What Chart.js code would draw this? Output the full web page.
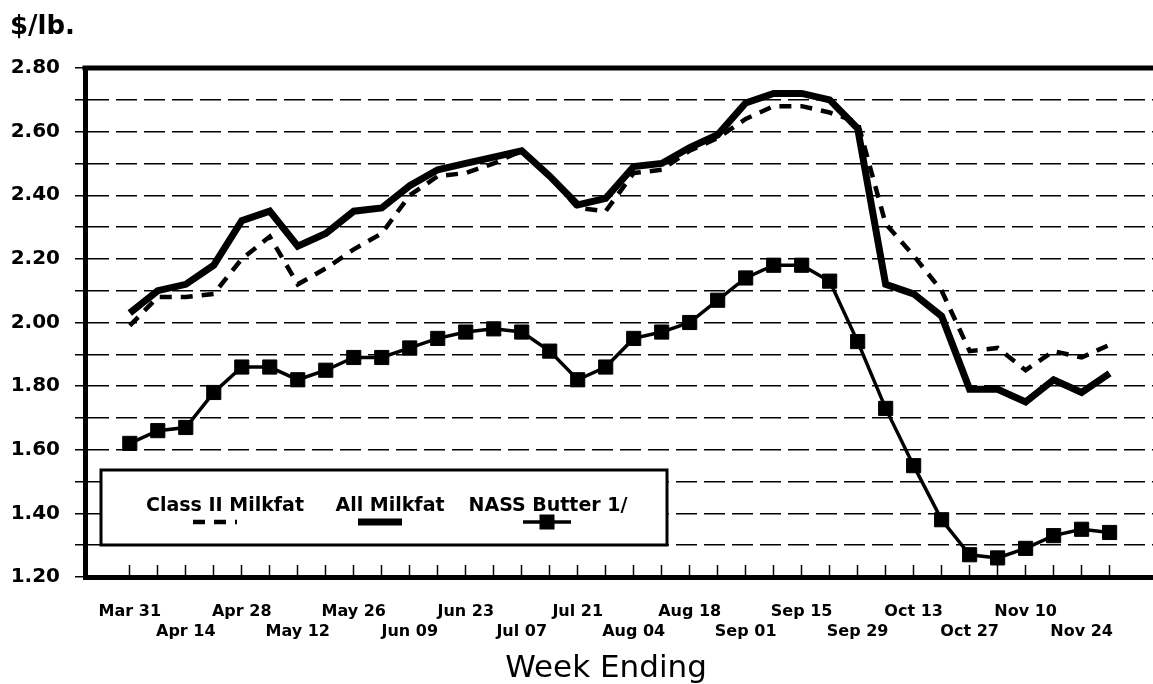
<!DOCTYPE html>
<html>
<head>
<meta charset="utf-8">
<title>Milkfat and Butter Prices</title>
<script src="https://cdn.jsdelivr.net/npm/chart.js@4.4.1/dist/chart.umd.min.js"></script>
<style>
  html, body { margin: 0; padding: 0; background: #fff; }
</style>
</head>
<body>
<canvas id="canvas" width="1153" height="684"></canvas>
<script>
const weeks = [
  'Mar 31', 'Apr 07', 'Apr 14', 'Apr 21', 'Apr 28', 'May 05', 'May 12', 'May 19', 'May 26',
  'Jun 02', 'Jun 09', 'Jun 16', 'Jun 23', 'Jun 30', 'Jul 07', 'Jul 14', 'Jul 21', 'Jul 28',
  'Aug 04', 'Aug 11', 'Aug 18', 'Aug 25', 'Sep 01', 'Sep 08', 'Sep 15', 'Sep 22', 'Sep 29',
  'Oct 06', 'Oct 13', 'Oct 20', 'Oct 27', 'Nov 03', 'Nov 10', 'Nov 17', 'Nov 24', 'Dec 01'
];

const classIIMilkfat = [
  1.99, 2.08, 2.08, 2.09, 2.20, 2.27, 2.12, 2.17, 2.23, 2.28, 2.40, 2.46,
  2.47, 2.50, 2.54, 2.46, 2.36, 2.35, 2.47, 2.48, 2.54, 2.58, 2.64, 2.68,
  2.68, 2.66, 2.63, 2.31, 2.21, 2.10, 1.91, 1.92, 1.85, 1.91, 1.89, 1.93
];

const allMilkfat = [
  2.03, 2.10, 2.12, 2.18, 2.32, 2.35, 2.24, 2.28, 2.35, 2.36, 2.43, 2.48,
  2.50, 2.52, 2.54, 2.46, 2.37, 2.39, 2.49, 2.50, 2.55, 2.59, 2.69, 2.72,
  2.72, 2.70, 2.61, 2.12, 2.09, 2.02, 1.79, 1.79, 1.75, 1.82, 1.78, 1.84
];

const nassButter = [
  1.62, 1.66, 1.67, 1.78, 1.86, 1.86, 1.82, 1.85, 1.89, 1.89, 1.92, 1.95,
  1.97, 1.98, 1.97, 1.91, 1.82, 1.86, 1.95, 1.97, 2.00, 2.07, 2.14, 2.18,
  2.18, 2.13, 1.94, 1.73, 1.55, 1.38, 1.27, 1.26, 1.29, 1.33, 1.35, 1.34
];

const yMin = 1.2;
const yMax = 2.8;
const yStep = 0.1;

const FONT = "'DejaVu Sans', sans-serif";

function toPoints(values) {
  return values.map((y, i) => ({x: i, y}));
}

// top border of the plot box, the "$/lb." caption and the x axis title
const frame = {
  id: 'frame',
  afterDraw(chart) {
    const {ctx, chartArea} = chart;
    ctx.save();
    ctx.strokeStyle = '#000';
    ctx.lineWidth = 5;
    ctx.beginPath();
    ctx.moveTo(chartArea.left - 2.5, chartArea.top);
    ctx.lineTo(chart.width, chartArea.top);
    ctx.stroke();

    ctx.fillStyle = '#000';
    ctx.textBaseline = 'alphabetic';
    ctx.font = `bold 26px ${FONT}`;
    ctx.fillText('$/lb.', 10, 34);

    ctx.font = `31px ${FONT}`;
    ctx.textAlign = 'center';
    ctx.fillText('Week Ending', 606, 677);
    ctx.restore();
  }
};

// boxed legend, text above each line sample
const boxLegend = {
  id: 'boxLegend',
  afterDatasetsDraw(chart) {
    const ctx = chart.ctx;
    const entries = [
      {tx: 225, sx: 215, half: 22},
      {tx: 390, sx: 380, half: 22},
      {tx: 548, sx: 547, half: 24}
    ];
    ctx.save();
    ctx.fillStyle = '#fff';
    ctx.fillRect(101, 470, 566, 75);
    ctx.strokeStyle = '#000';
    ctx.lineWidth = 3;
    ctx.strokeRect(101, 470, 566, 75);

    ctx.font = `bold 19px ${FONT}`;
    ctx.textAlign = 'center';
    ctx.textBaseline = 'alphabetic';
    chart.data.datasets.forEach((ds, i) => {
      const e = entries[i];
      ctx.fillStyle = '#000';
      ctx.fillText(ds.label, e.tx, 511);
      ctx.beginPath();
      ctx.setLineDash(ds.borderDash || []);
      ctx.lineWidth = ds.borderWidth;
      ctx.moveTo(e.sx - e.half, 522);
      ctx.lineTo(e.sx + e.half, 522);
      ctx.stroke();
      ctx.setLineDash([]);
      if (ds.pointRadius > 0) {
        ctx.fillRect(e.sx - 7.5, 522 - 7.5, 15, 15);
      }
    });
    ctx.restore();
  }
};

const config = {
  type: 'line',
  data: {
    datasets: [
      {
        label: 'Class II Milkfat',
        data: toPoints(classIIMilkfat),
        borderColor: '#000',
        borderWidth: 4.5,
        borderDash: [12, 9],
        pointRadius: 0,
        tension: 0,
      },
      {
        label: 'All Milkfat',
        data: toPoints(allMilkfat),
        borderColor: '#000',
        borderWidth: 7,
        pointRadius: 0,
        tension: 0,
      },
      {
        label: 'NASS Butter 1/',
        data: toPoints(nassButter),
        borderColor: '#000',
        borderWidth: 3.5,
        pointRadius: 10,
        pointStyle: 'rect',
        pointBackgroundColor: '#000',
        pointBorderColor: '#000',
        pointBorderWidth: 1,
        tension: 0,
      },
    ],
  },
  options: {
    responsive: false,
    animation: false,
    layout: {autoPadding: false, padding: {top: 68, left: 0, right: 0, bottom: 0}},
    plugins: {
      legend: {display: false},
      tooltip: {enabled: false},
    },
    scales: {
      x: {
        type: 'linear',
        bounds: 'data',
        min: -1.6,
        max: 36.55,
        afterBuildTicks: scale => {
          scale.ticks = weeks.map((w, i) => ({value: i}));
        },
        afterFit: scale => {
          scale.height = 107;
        },
        ticks: {
          autoSkip: false,
          maxRotation: 0,
          minRotation: 0,
          padding: 36,
          color: '#000',
          font: {family: FONT, size: 16, weight: 'bold', lineHeight: 1.3},
          callback: value => {
            if (value % 2 !== 0) return '';
            const label = weeks[value];
            return value % 4 === 0 ? [label, ''] : ['', label];
          },
        },
        grid: {
          drawOnChartArea: false,
          drawTicks: true,
          tickLength: -12,
          tickColor: '#000',
          tickWidth: 1.5,
          color: '#000',
        },
        border: {display: true, color: '#000', width: 5},
      },
      y: {
        min: yMin,
        max: yMax,
        afterFit: scale => {
          scale.width = 85;
        },
        ticks: {
          stepSize: yStep,
          autoSkip: false,
          padding: 15,
          color: '#000',
          font: {family: FONT, size: 20, weight: 'bold'},
          callback: value => (Math.round(value * 10) % 2 === 0 ? value.toFixed(2) : ''),
        },
        grid: {
          color: '#000',
          lineWidth: 1.5,
          tickLength: 10,
          tickColor: '#000',
          tickWidth: 1.5,
        },
        border: {display: true, color: '#000', width: 5, dash: [21, 7]},
      },
    },
  },
  plugins: [frame, boxLegend],
};

document.addEventListener('DOMContentLoaded', () => {
  const ctx = document.getElementById('canvas').getContext('2d');
  new Chart(ctx, config);
});
</script>
</body>
</html>
